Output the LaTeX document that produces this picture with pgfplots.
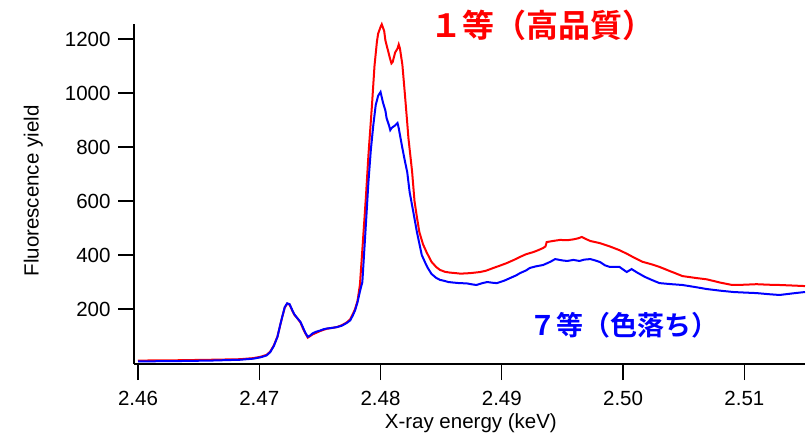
\documentclass[border=0pt]{standalone}
\usepackage{pgfplots}
\pgfplotsset{compat=1.18}
\usepackage{fontspec}
\setmainfont{Liberation Sans}
\newfontfamily\cjk{Noto Sans CJK JP}[BoldFont={Noto Sans CJK JP Bold}]
\definecolor{cred}{RGB}{255,0,0}
\definecolor{cblue}{RGB}{0,0,255}
\begin{document}
\begin{tikzpicture}
\path[use as bounding box] (0,0) rectangle (809pt,439pt);
\begin{axis}[
  at={(134pt,75pt)}, anchor=south west,
  scale only axis, width=671pt, height=340pt,
  xmin=2.45967, xmax=2.515, ymin=-3.7, ymax=1256,
  axis x line=bottom, axis y line=left,
  axis line style={-, line width=1.3pt, black},
  tick style={line width=1.3pt, black},
  tick align=outside, major tick length=16pt,
  xtick={2.46,2.47,2.48,2.49,2.50,2.51},
  ytick={200,400,600,800,1000,1200},
  minor tick num=0,
  /pgf/number format/assume math mode=true,
  x tick label style={/pgf/number format/.cd, fixed, fixed zerofill, precision=2, /tikz/.cd, yshift=-8pt},
  y tick label style={/pgf/number format/.cd, fixed, 1000 sep={}, /tikz/.cd, xshift=-4pt},
  tick label style={font=\fontsize{20.5}{24}\selectfont},
  scaled x ticks=false, scaled y ticks=false,
  xlabel={X-ray energy (keV)}, ylabel={Fluorescence yield},
  label style={font=\fontsize{20.5}{24}\selectfont},
  xlabel style={at={(axis description cs:0.502,-0.1735)}, anchor=center},
  ylabel style={at={(axis description cs:-0.150,0.509)}, anchor=center, rotate=0},
  clip=false,
]
\addplot[cred, line width=2pt] coordinates {
(2.4600,9) (2.4630,10) (2.4660,12) (2.4684,14) (2.4695,18) (2.4701,23) (2.4706,30)
(2.4709,42) (2.4712,65) (2.4715,98) (2.4717,135) (2.4719,172) (2.4721,205) (2.4723,220)
(2.4725,216) (2.4727,196) (2.4729,178) (2.4731,168) (2.4734,150) (2.4736,128) (2.4738,110)
(2.4740,94) (2.4742,100) (2.4744,106) (2.4747,112) (2.4750,118) (2.4753,123) (2.4756,127)
(2.4760,130) (2.4764,133) (2.4768,140) (2.4772,150) (2.4775,162) (2.4777,180) (2.4779,200)
(2.4781,230) (2.4783,290) (2.4785,420) (2.4788,620) (2.4790,770) (2.4793,960) (2.4795,1100)
(2.4797,1190) (2.4798,1220) (2.4800,1245) (2.4801,1255) (2.4803,1230) (2.4804,1195)
(2.4806,1160) (2.4808,1125) (2.4809,1110) (2.4810,1115) (2.4812,1150) (2.4814,1165)
(2.4815,1180) (2.4816,1165) (2.4818,1105) (2.4820,1000) (2.4822,890) (2.4823,833)
(2.4826,710) (2.4828,600) (2.4830,540) (2.4832,485) (2.4835,440) (2.4838,410) (2.4842,375)
(2.4846,355) (2.4849,345) (2.4853,338) (2.4857,335) (2.4862,333) (2.4866,331) (2.4870,332)
(2.4874,333) (2.4878,335) (2.4882,337) (2.4887,342) (2.4893,352) (2.4898,360) (2.4904,370)
(2.4910,382) (2.4915,393) (2.4920,403) (2.4926,411) (2.4930,418) (2.4934,426) (2.4936,432)
(2.4937,448) (2.4942,452) (2.4948,456) (2.4954,455) (2.4959,458) (2.4963,462) (2.4966,467)
(2.4969,460) (2.4973,452) (2.4977,448) (2.4981,444) (2.4985,438) (2.4989,432) (2.4993,425)
(2.4997,418) (2.5003,405) (2.5008,393) (2.5016,375) (2.5024,365) (2.5030,356) (2.5040,338)
(2.5049,322) (2.5060,315) (2.5069,310) (2.5080,298) (2.5090,289) (2.5100,290) (2.5110,292)
(2.5120,290) (2.5129,289) (2.5140,287) (2.5150,285)
};
\addplot[cblue, line width=2pt] coordinates {
(2.4600,6) (2.4630,7) (2.4660,9) (2.4684,12) (2.4695,16) (2.4701,21) (2.4706,28)
(2.4709,40) (2.4712,63) (2.4715,97) (2.4717,136) (2.4719,172) (2.4721,207) (2.4723,221)
(2.4725,218) (2.4727,198) (2.4729,180) (2.4731,168) (2.4734,152) (2.4736,132) (2.4738,112)
(2.4740,97) (2.4742,102) (2.4744,110) (2.4747,116) (2.4750,120) (2.4753,125) (2.4756,128)
(2.4760,130) (2.4764,133) (2.4768,138) (2.4772,148) (2.4775,158) (2.4777,175) (2.4779,195)
(2.4781,225) (2.4783,265) (2.4785,300) (2.4788,520) (2.4790,670) (2.4792,790) (2.4794,880)
(2.4796,955) (2.4798,990) (2.4800,1004) (2.4802,965) (2.4804,935) (2.4805,907) (2.4807,880)
(2.4808,863) (2.4809,870) (2.4810,874) (2.4812,880) (2.4814,889) (2.4815,870) (2.4816,845)
(2.4818,796) (2.4820,750) (2.4822,707) (2.4824,633) (2.4827,560) (2.4830,485) (2.4834,400)
(2.4837,370) (2.4839,352) (2.4842,330) (2.4846,315) (2.4849,308) (2.4852,305) (2.4856,300)
(2.4860,298) (2.4865,296) (2.4871,295) (2.4876,291) (2.4879,289) (2.4884,296) (2.4888,300)
(2.4893,297) (2.4896,296) (2.4902,305) (2.4907,315) (2.4912,325) (2.4915,333) (2.4920,343)
(2.4923,352) (2.4928,358) (2.4934,363) (2.4940,375) (2.4944,385) (2.4950,380) (2.4954,378)
(2.4959,382) (2.4964,378) (2.4968,383) (2.4973,385) (2.4977,380) (2.4981,374) (2.4985,362)
(2.4989,356) (2.4997,356) (2.5003,337) (2.5007,348) (2.5012,334) (2.5018,319) (2.5024,307)
(2.5030,296) (2.5040,292) (2.5049,289) (2.5060,281) (2.5069,274) (2.5080,268) (2.5091,263)
(2.5100,261) (2.5110,259) (2.5120,255) (2.5129,252) (2.5140,258) (2.5150,263)
};
\node[text=cred, font=\cjk\bfseries\fontsize{32}{36}\selectfont, anchor=west, inner sep=0pt] at (axis cs:2.48407,1252) {１等（高品質）};
\node[text=cblue, font=\cjk\bfseries\fontsize{27}{31}\selectfont, anchor=west, inner sep=0pt] at (axis cs:2.49223,141) {７等（色落ち）};
\end{axis}
\end{tikzpicture}
\end{document}
